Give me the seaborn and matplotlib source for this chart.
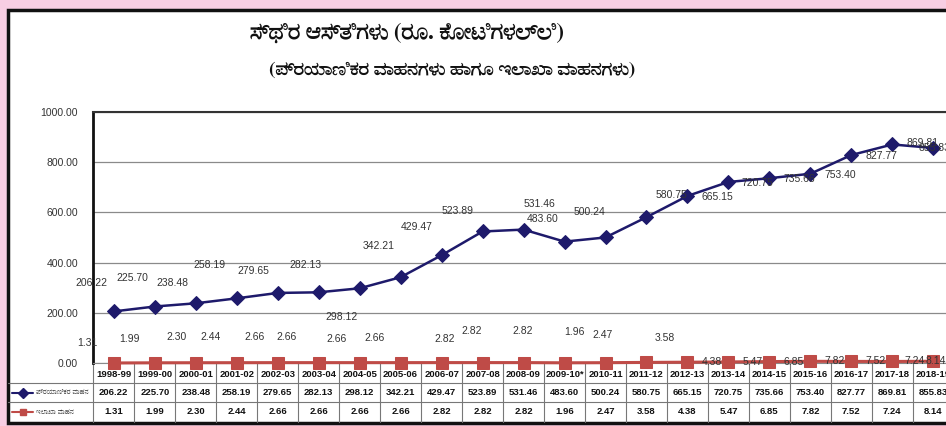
import matplotlib
matplotlib.use("Agg")
import matplotlib.pyplot as plt
import seaborn as sns
from matplotlib import font_manager
from matplotlib.ft2font import FT2Font
from matplotlib.patches import Rectangle

# Data
years = ["1998-99", "1999-00", "2000-01", "2001-02", "2002-03", "2003-04", "2004-05",
         "2005-06", "2006-07", "2007-08", "2008-09", "2009-10*", "2010-11", "2011-12",
         "2012-13", "2013-14", "2014-15", "2015-16", "2016-17", "2017-18", "2018-19"]
passenger = [206.22, 225.70, 238.48, 258.19, 279.65, 282.13, 298.12, 342.21, 429.47, 523.89,
             531.46, 483.60, 500.24, 580.75, 665.15, 720.75, 735.66, 753.40, 827.77, 869.81, 855.83]
department = [1.31, 1.99, 2.30, 2.44, 2.66, 2.66, 2.66, 2.66, 2.82, 2.82,
              2.82, 1.96, 2.47, 3.58, 4.38, 5.47, 6.85, 7.82, 7.52, 7.24, 8.14]
series_names = ["ಪ್ರಯಾಣಿಕರ ವಾಹನ", "ಇಲಾಖಾ ವಾಹನ"]
title = "ಸ್ಥಿರ ಆಸ್ತಿಗಳು (ರೂ. ಕೋಟಿಗಳಲ್ಲಿ)"
subtitle = "(ಪ್ರಯಾಣಿಕರ ವಾಹನಗಳು ಹಾಗೂ ಇಲಾಖಾ ವಾಹನಗಳು)"

# label nudges (pixels), as placed in the original chart
blue_off = [(-22, 28), (-22, 29), (-23, 20), (-27, 33), (-24, 22), (-13, 27), (-18, -29),
            (-22, 31), (-25, 28), (-25, 20), (16, 26), (-22, 23), (-16, 25), (25, 22),
            (30, -1), (29, -1), (30, -1), (30, -1), (30, -1), (30, 1), (1, 0)]
red_off = [(-26, 20), (-25, 24), (-19, 26), (-26, 26), (-23, 26), (-32, 26), (-23, 24),
           (-26, 25), (3, 24), (-11, 32), (-1, 32), (10, 31), (-3, 28), (18, 24),
           (24, 0), (24, 0), (24, 0), (24, 0), (24, 0), (22, 0), (2, 0)]

BLUE = "#1e1a6b"
RED = "#bf4b47"
PINK = "#f8cee3"

sns.set_style("white")

# find an installed font that can draw Kannada (prefer one with a bold face)
kn_fonts = []
for f in font_manager.fontManager.ttflist:
    try:
        if 0x0C95 in FT2Font(f.fname).get_charmap():
            kn_fonts.append(f)
    except Exception:
        pass
bold = [f.name for f in kn_fonts if str(f.weight) in ("bold", "700", "800", "900") or
        (isinstance(f.weight, int) and f.weight >= 600)]
kn = bold[0] if bold else (kn_fonts[0].name if kn_fonts else None)
kn_fam = ([kn] if kn else []) + ["DejaVu Sans"]
plt.rcParams["font.family"] = ["Liberation Sans", "DejaVu Sans"]

W, H = 946, 426
fig = plt.figure(figsize=(W / 100, H / 100), dpi=100, facecolor=PINK)

# white frame
fig.patches.append(Rectangle((8 / W, 1 - 423 / H), 1.0, (423 - 10) / H, transform=fig.transFigure,
                             facecolor="white", edgecolor="#111111", lw=2.5, zorder=-5))

fig.text(407 / W, 1 - 33 / H, title, ha="center", va="center", fontsize=16.5,
         fontweight="bold", family=kn_fam, color="#111111")
fig.text(452 / W, 1 - 70 / H, subtitle, ha="center", va="center", fontsize=14,
         fontweight="bold", family=kn_fam, color="#111111")

left = 93.3 / W
width = (953.8 - 93.3) / W
ax = fig.add_axes([left, 1 - 363.3 / H, width, (363.3 - 111.7) / H])
tab = fig.add_axes([left, 1 - 421.7 / H, width, (421.7 - 363.3) / H])
ax.set_zorder(3)
ax.patch.set_alpha(0)
tab.patch.set_alpha(0)

sns.lineplot(x=years, y=passenger, ax=ax, color=BLUE, lw=1.8, marker="D", markersize=7,
             markeredgecolor=BLUE, clip_on=False, zorder=4)
sns.lineplot(x=years, y=department, ax=ax, color=RED, lw=2.2, marker="s", markersize=8,
             markeredgecolor=RED, clip_on=False, zorder=4)

for i, v in enumerate(passenger):
    ax.annotate(f"{v:.2f}", (i, v), xytext=blue_off[i], textcoords="offset pixels",
                ha="center", va="center", fontsize=7.5, color="#333333", zorder=5)
for i, v in enumerate(department):
    ax.annotate(f"{v:.2f}", (i, v), xytext=red_off[i], textcoords="offset pixels",
                ha="center", va="center", fontsize=7.5, color="#333333", zorder=5)

ax.set_xlim(-0.5, len(years) - 0.5)
ax.set_ylim(0, 1000)
ax.set_yticks(range(0, 1001, 200))
ax.set_yticklabels([f"{t:.2f}" for t in range(0, 1001, 200)])
ax.tick_params(axis="y", labelsize=7.5, labelcolor="#333333", length=3, width=0.8, pad=8)
ax.set_xticks([])
ax.set_xlabel("")
ax.set_ylabel("")
ax.grid(axis="y", color="#8a8a8a", lw=0.9)
ax.spines["left"].set_linewidth(2)
ax.spines["left"].set_color("#111111")
ax.spines["top"].set_linewidth(1.5)
ax.spines["top"].set_color("#333333")
ax.spines["bottom"].set_color("#8a8a8a")
ax.spines["right"].set_visible(False)

# data table under the chart
n = len(years)
xl = -0.5 - (93.3 - 8) / 40.95
tab.set_xlim(-0.5, n - 0.5)
tab.set_ylim(3, 0)
tab.axis("off")
for k in range(n + 1):
    tab.plot([k - 0.5, k - 0.5], [0, 3], color="#777777", lw=0.8, clip_on=False)
for r in (1, 2):
    tab.plot([xl, n - 0.5], [r, r], color="#777777", lw=0.8, clip_on=False)
tab.plot([xl, n - 0.5], [0, 0], color="#111111", lw=1.2)

tfont = dict(family=["Liberation Sans Narrow", "Liberation Sans"], fontweight="bold",
             fontsize=6.8, color="#111111", ha="center", va="center")
for i, y in enumerate(years):
    tab.text(i, 0.55, y, **tfont)
    tab.text(i, 1.5, f"{passenger[i]:.2f}", **tfont)
    tab.text(i, 2.5, f"{department[i]:.2f}", **tfont)

for r, (c, m, name) in enumerate(zip([BLUE, RED], ["D", "s"], series_names)):
    tab.plot([xl + 0.1, xl + 0.62], [r + 1.5, r + 1.5], color=c, lw=1.5, clip_on=False)
    tab.plot([xl + 0.36], [r + 1.5], marker=m, color=c, markersize=5, clip_on=False)
    tab.text(xl + 0.68, r + 1.5, name, fontsize=5.2, family=kn_fam, color="#333333",
             ha="left", va="center", clip_on=False)

fig.savefig("out.png", dpi=100, facecolor=PINK)
